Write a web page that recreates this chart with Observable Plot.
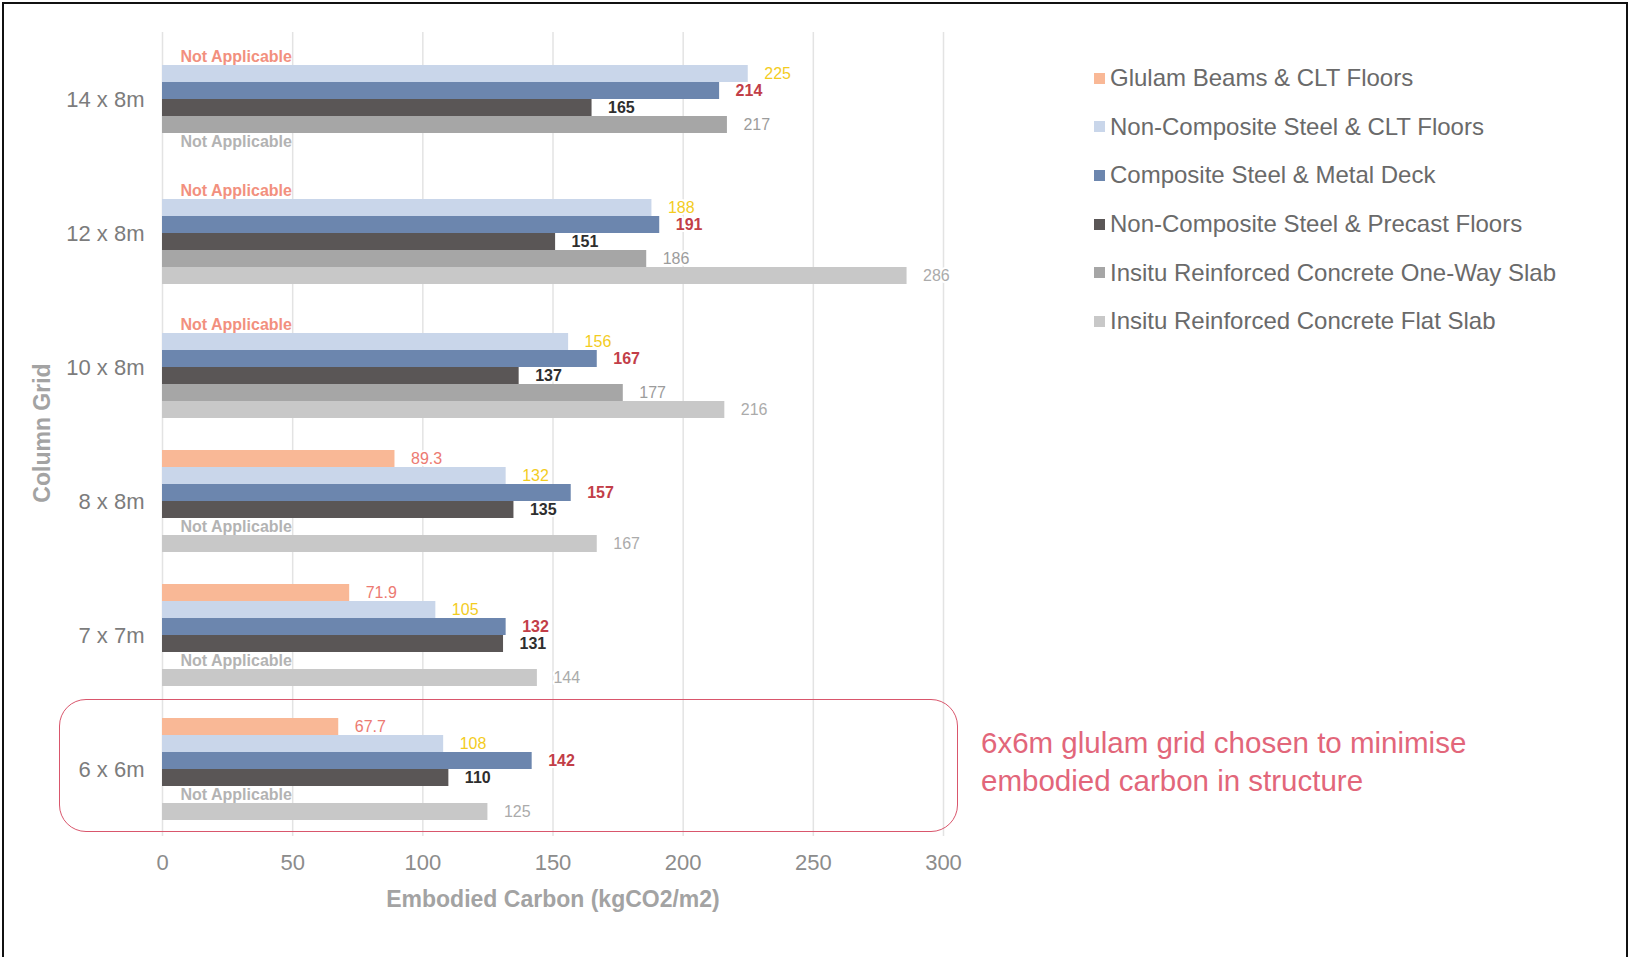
<!DOCTYPE html>
<html>
<head>
<meta charset="utf-8">
<script src="https://cdn.jsdelivr.net/npm/d3@7"></script>
<script src="https://cdn.jsdelivr.net/npm/@observablehq/plot@0.6"></script>
<style>
  html, body { margin: 0; padding: 0; background: #fff; }
  body { width: 1632px; height: 957px; position: relative; overflow: hidden; font-family: "Liberation Sans", Arial, sans-serif; }
  #frame { position: absolute; left: 2px; top: 2px; width: 1626px; height: 960px; border: 2px solid #111; box-sizing: border-box; pointer-events: none; }
  #chart { position: absolute; left: 0; top: 0; }
  #chart svg text { paint-order: stroke; }
  .axtitle { position: absolute; font-size: 23px; font-weight: bold; color: #a3a3a3; white-space: nowrap; line-height: 1; }
  #ytitle { left: 42px; top: 433px; transform: translate(-50%, -50%) rotate(-90deg); }
  #xtitle { left: 553px; top: 899px; transform: translate(-50%, -50%); }
  #legend { position: absolute; left: 1094px; top: 54px; }
  .li { display: flex; align-items: center; height: 48.6px; font-size: 24px; color: #6a6a6a; white-space: nowrap; }
  .sw { width: 11px; height: 11px; margin-right: 5px; flex: none; }
  #annobox { position: absolute; left: 59px; top: 699px; width: 899px; height: 133px; border: 1.6px solid #d9566c; border-radius: 27px; box-sizing: border-box; }
  #annotext { position: absolute; left: 981px; top: 724px; font-size: 29.5px; line-height: 38px; color: #e2667a; white-space: nowrap; }
</style>
</head>
<body>
<div id="chart"></div>
<div id="ytitle" class="axtitle">Column Grid</div>
<div id="xtitle" class="axtitle">Embodied Carbon (kgCO2/m2)</div>
<div id="legend"></div>
<div id="annobox"></div>
<div id="annotext">6x6m glulam grid chosen to minimise<br>embodied carbon in structure</div>
<div id="frame"></div>
<script>
// ---- data ----
const grids = ["14 x 8m", "12 x 8m", "10 x 8m", "8 x 8m", "7 x 7m", "6 x 6m"];
const series = [
  "Glulam Beams & CLT Floors",
  "Non-Composite Steel & CLT Floors",
  "Composite Steel & Metal Deck",
  "Non-Composite Steel & Precast Floors",
  "Insitu Reinforced Concrete One-Way Slab",
  "Insitu Reinforced Concrete Flat Slab"
];
const glulamCLT      = [null, null, null, 89.3, 71.9, 67.7];
const nonCompCLT     = [225, 188, 156, 132, 105, 108];
const compositeDeck  = [214, 191, 167, 157, 132, 142];
const nonCompPrecast = [165, 151, 137, 135, 131, 110];
const oneWaySlab     = [217, 186, 177, null, null, null];
const flatSlab       = [null, 286, 216, 167, 144, 125];
const xTicks = [0, 50, 100, 150, 200, 250, 300];
const naText = "Not Applicable";

// ---- styles ----
const barColors   = ["#f9b896", "#c9d6ea", "#6c86ae", "#5a5656", "#a6a6a6", "#c8c8c8"];
const labelColors = ["#ec7a72", "#f3cc1e", "#c23e48", "#2e2e2e", "#9c9c9c", "#ababab"];
const labelWeights = ["normal", "normal", "bold", "bold", "normal", "normal"];
const naColors = ["#f2907e", "#b3b3b3", "#b3b3b3", "#b3b3b3", "#b3b3b3", "#b3b3b3"];

const allValues = [glulamCLT, nonCompCLT, compositeDeck, nonCompPrecast, oneWaySlab, flatSlab];
const rows = [];
allValues.forEach((vals, si) => vals.forEach((v, gi) => rows.push({grid: grids[gi], series: series[si], si, value: v})));

const labelMarks = [];
series.forEach((s, si) => {
  labelMarks.push(Plot.text(rows.filter(d => d.si === si && d.value != null), {
    x: "value", y: "series", fy: "grid", text: d => String(d.value),
    textAnchor: "start", dx: 16, fontSize: 16, fontWeight: labelWeights[si],
    fill: labelColors[si], stroke: "white", strokeWidth: 4
  }));
  labelMarks.push(Plot.text(rows.filter(d => d.si === si && d.value == null), {
    x: () => 0, y: "series", fy: "grid", text: () => naText,
    textAnchor: "start", dx: 18, fontSize: 16, fontWeight: "bold",
    fill: naColors[si]
  }));
});

const chart = Plot.plot({
  width: 1632,
  height: 880,
  marginLeft: 162,
  marginRight: 689,
  marginTop: 32,
  marginBottom: 45,
  style: {fontFamily: "'Liberation Sans', Arial, sans-serif", background: "transparent"},
  x: {domain: [0, 300], axis: null},
  y: {domain: series, padding: 0, axis: null},
  fy: {domain: grids, paddingInner: 0.2125, paddingOuter: 0.1, axis: null},
  color: {domain: series, range: barColors},
  marks: [
    Plot.ruleX(xTicks, {stroke: "#e3e3e3", strokeWidth: 1.5, insetTop: -14, insetBottom: -14}),
    Plot.barX(rows.filter(d => d.value != null), {x: "value", y: "series", fy: "grid", fill: "series"}),
    ...labelMarks,
    Plot.axisFy({anchor: "left", tickSize: 0, tickPadding: 18, fontSize: 22, color: "#7c7c7c", label: null}),
    Plot.axisX({ticks: xTicks, tickSize: 0, tickPadding: 32, fontSize: 22, color: "#8c8c8c", label: null})
  ]
});
document.getElementById("chart").appendChild(chart);

// legend
const legend = document.getElementById("legend");
series.forEach((s, i) => {
  const row = document.createElement("div");
  row.className = "li";
  const sw = document.createElement("span");
  sw.className = "sw";
  sw.style.background = barColors[i];
  const t = document.createElement("span");
  t.textContent = s;
  row.appendChild(sw);
  row.appendChild(t);
  legend.appendChild(row);
});
</script>
</body>
</html>
